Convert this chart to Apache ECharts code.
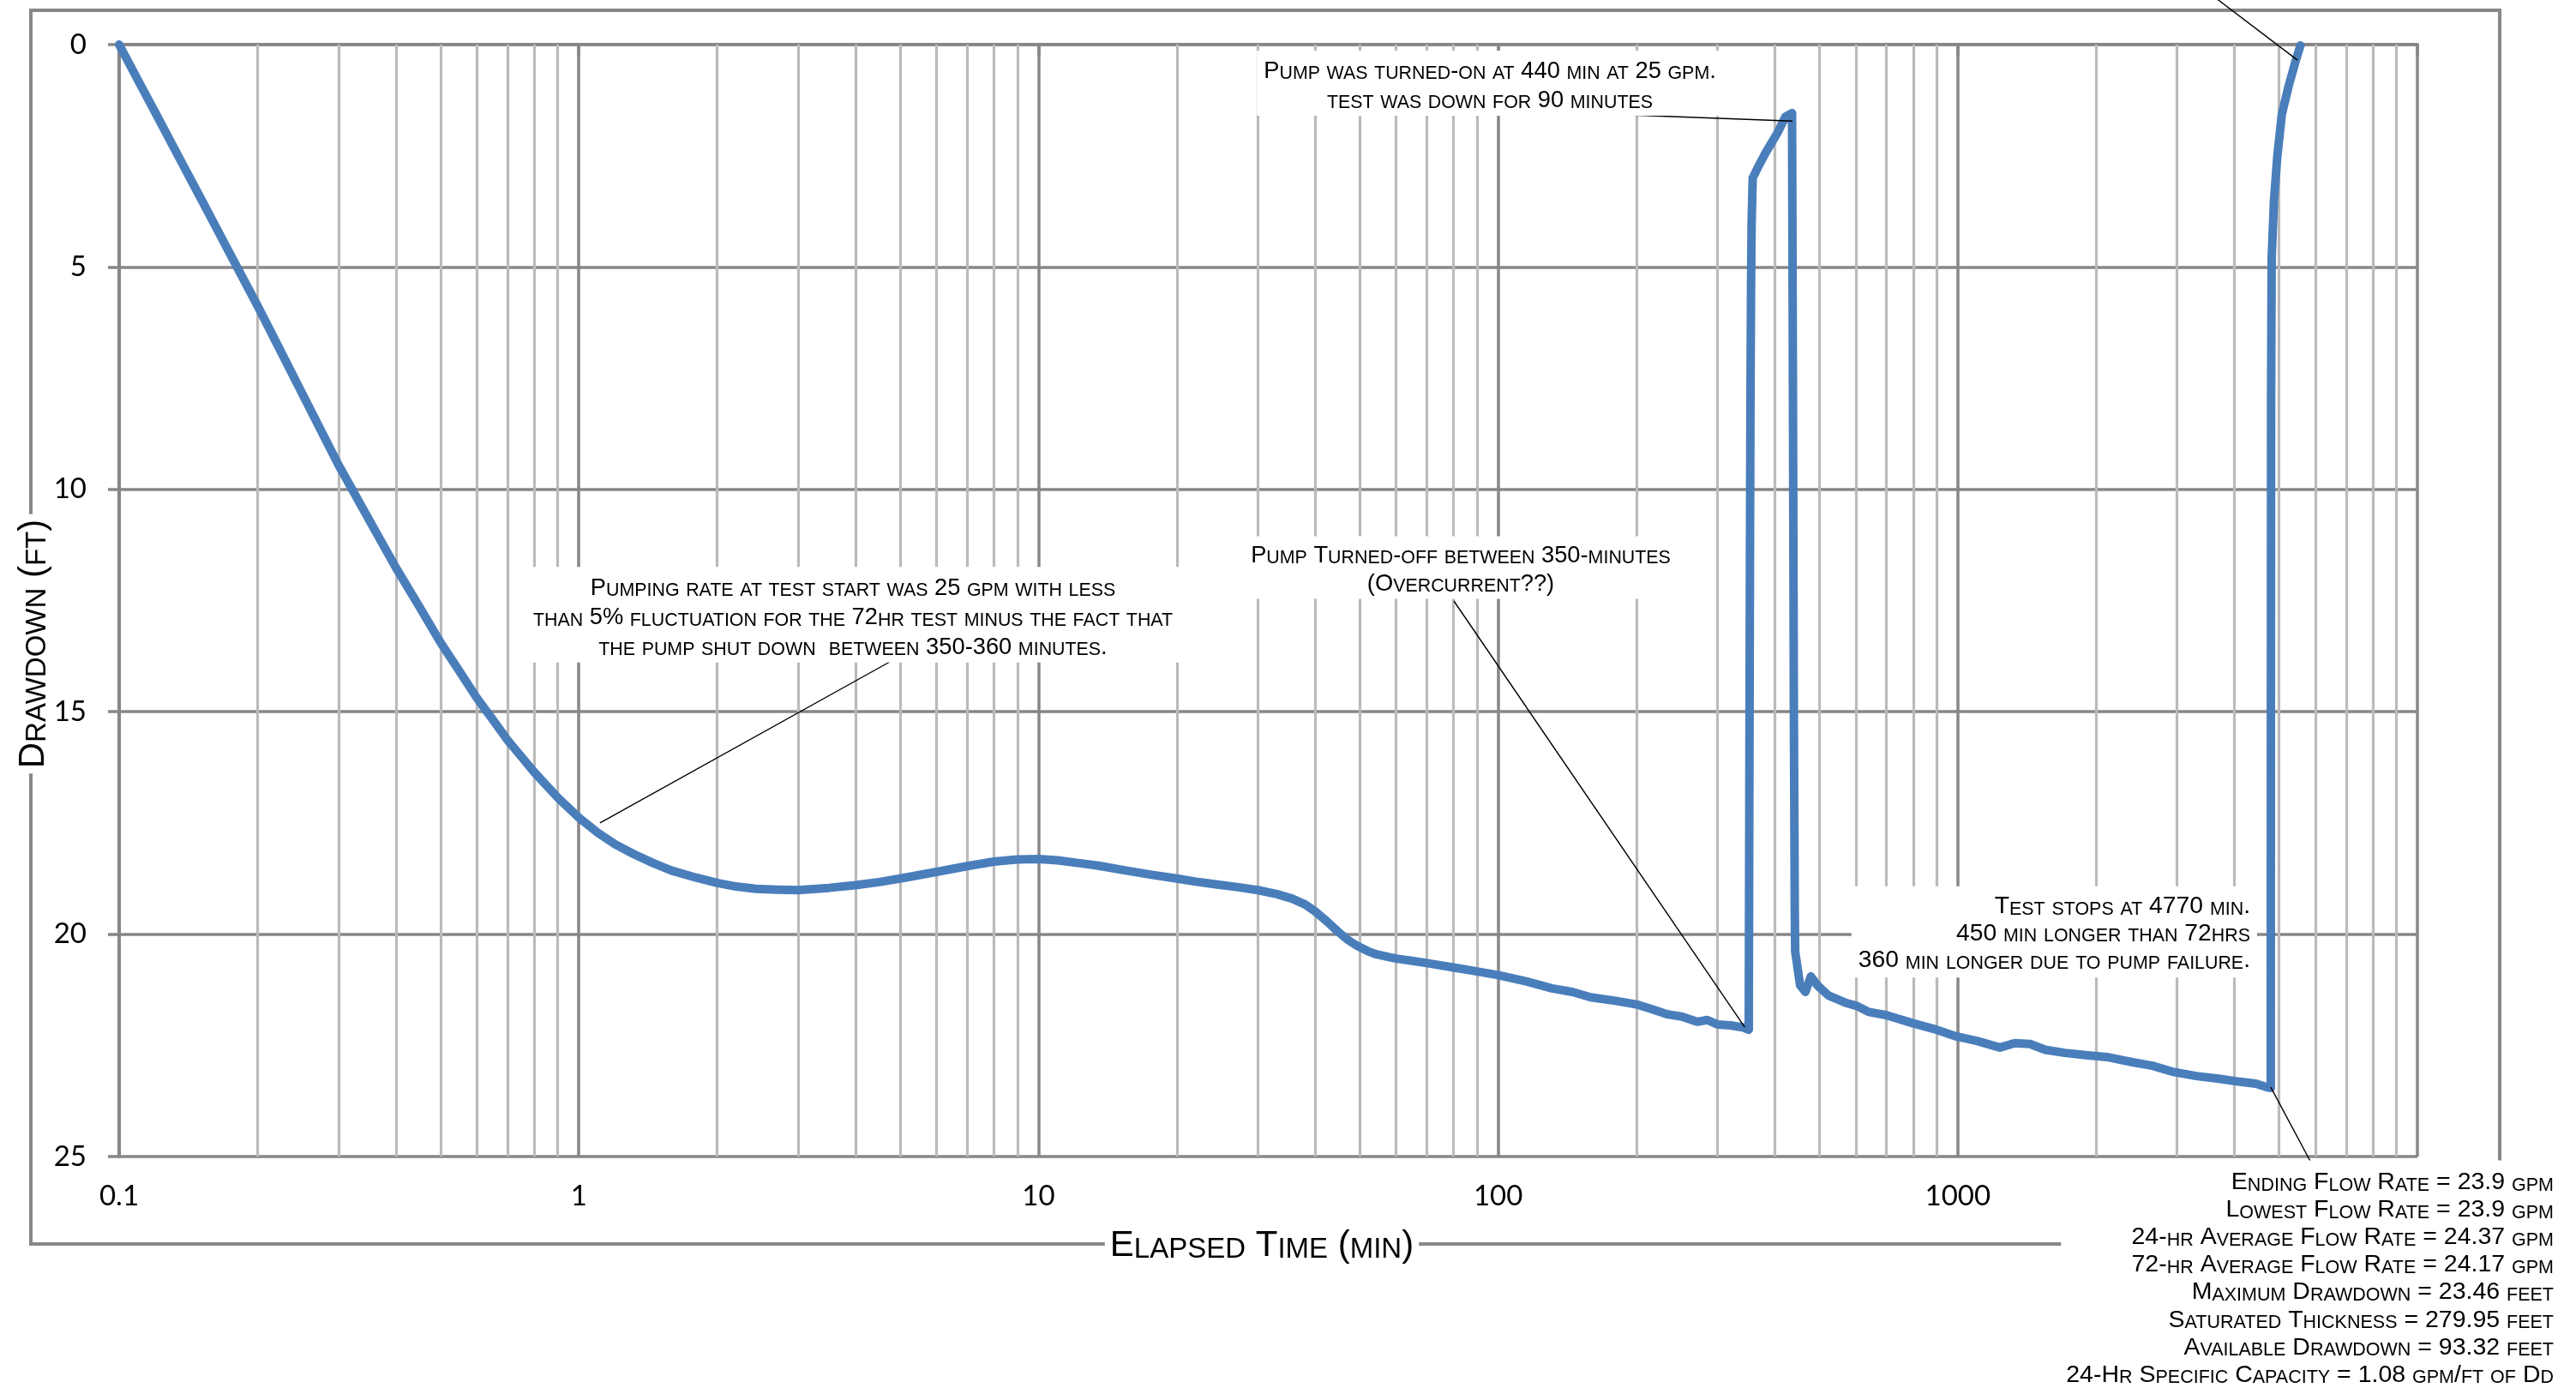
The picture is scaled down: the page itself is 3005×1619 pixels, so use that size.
<!DOCTYPE html>
<html><head><meta charset="utf-8">
<script src="https://cdn.jsdelivr.net/npm/echarts@6/dist/echarts.min.js"></script>
<style>html,body{margin:0;padding:0;background:#fff}#c{width:3005px;height:1619px}</style>
</head><body><div id="c"></div>
<script>
// ---------------- DATA ----------------
const timeMin = [
  0.1,0.11,0.12,0.135,0.15,0.165,0.183,0.2,0.22,0.25,0.3,0.35,0.4,0.45,0.5,0.55,0.6,0.65,0.7,0.75,0.8,0.9,1.0,
  1.1,1.2,1.317,1.45,1.59,1.8,2.0,2.2,2.43,2.7,3.0,3.5,4.0,4.5,5.0,6.0,7.0,8.0,9.0,10,
  11,12.2,13.5,15.3,17.5,20,22,24.3,27,30,33,35.6,38,40,42.5,44.8,47,49.3,52,54.2,
  57,60,65,70,80,90,100,115,131,145,159,180,200,215,233,250,271,285,300,320,342,351,
  352,353,354,355,356,358,370,382,405,422,436,
  438,440,442,443,454,466,479,495,523,573,605,640,698,797,900,993,1100,1235,1330,1436,
  1550,1712,1900,2131,2400,2652,2950,3303,3700,4112,4450,4697,4797,
  4800,4805,4815,4820,4875,4955,5070,5250,5440,5566
];
const drawdownFt = [
  0,0.81,1.54,2.54,3.43,4.24,5.12,5.87,6.71,7.84,9.45,10.69,11.76,12.64,13.44,14.09,14.69,15.18,15.64,16.01,16.36,16.93,17.38,
  17.72,17.98,18.2,18.4,18.57,18.73,18.85,18.93,18.98,19.0,19.01,18.96,18.9,18.83,18.75,18.6,18.47,18.37,18.32,18.31,
  18.34,18.4,18.46,18.56,18.66,18.75,18.82,18.88,18.94,19.01,19.1,19.2,19.33,19.49,19.72,19.94,20.12,20.26,20.38,20.45,
  20.5,20.55,20.6,20.65,20.75,20.84,20.92,21.06,21.22,21.3,21.42,21.5,21.58,21.68,21.8,21.85,21.97,21.93,22.03,22.05,22.1,22.15,
  17.0,12.0,8.0,5.5,4.05,3.0,2.7,2.43,1.99,1.62,1.54,
  8.0,15.0,19.5,20.4,21.15,21.3,20.95,21.15,21.38,21.55,21.62,21.75,21.82,22.0,22.15,22.3,22.4,22.55,22.45,22.47,
  22.6,22.67,22.72,22.77,22.88,22.96,23.1,23.19,23.25,23.32,23.36,23.44,23.46,
  15.0,8.0,5.5,4.78,3.5,2.53,1.57,0.92,0.35,0.02
];
const xTickLabels = ['0.1','1','10','100','1000'];
const yTickLabels = ['0','5','10','15','20','25'];
const minorGridTimes = [0.2,0.3,0.4,0.5,0.6,0.7,0.8,0.9,2,3,4,5,6,7,8,9,20,30,40,50,60,70,80,90,
  200,300,400,500,600,700,800,900,2000,3000,4000,5000,6000,7000,8000,9000];
const xTitle = 'Elapsed Time (min)';
const yTitle = 'Drawdown (ft)';
const noteStart = 'Pumping rate at test start was 25 gpm with less\nthan 5% fluctuation for the 72hr test minus the fact that\nthe pump shut down  between 350-360 minutes.';
const noteOff = 'Pump Turned-off between 350-minutes\n(Overcurrent??)';
const noteOn = 'Pump was turned-on at 440 min at 25 gpm.\ntest was down for 90 minutes';
const noteStop = 'Test stops at 4770 min.\n450 min longer than 72hrs\n360 min longer due to pump failure.';
const statsLines = [
  'Ending Flow Rate = 23.9 gpm',
  'Lowest Flow Rate = 23.9 gpm',
  '24-hr Average Flow Rate = 24.37 gpm',
  '72-hr Average Flow Rate = 24.17 gpm',
  'Maximum Drawdown = 23.46 feet',
  'Saturated Thickness = 279.95 feet',
  'Available Drawdown = 93.32 feet',
  '24-Hr Specific Capacity = 1.08 gpm/ft of Dd'
];
// anchors of the leader lines on the curve [time, drawdown]
const anchorStart = [1.112, 17.5];
const anchorOff = [344, 22.09];
const anchorOn = [437, 1.72];
const anchorEndTop = [5483, 0.35];
const anchorEndBottom = [4797, 23.44];

// ---------------- HELPERS ----------------
const FONT = "'Liberation Sans', Arial, sans-serif";
function smallCaps(str) {
  return str.split('\n').map(line => {
    let out = '', cur = null, buf = '';
    for (const ch of line) {
      const lower = ch !== ch.toUpperCase();
      const key = lower ? 's' : 'b';
      const c = lower ? ch.toUpperCase() : ch;
      if (key !== cur) { if (buf) out += '{' + cur + '|' + buf + '}'; buf = ''; cur = key; }
      buf += c;
    }
    if (buf) out += '{' + cur + '|' + buf + '}';
    return out;
  }).join('\n');
}
function richStyles(big, small, lh) {
  return {
    b: {fontSize: big, fontFamily: FONT, fill: '#000', lineHeight: lh, verticalAlign: 'bottom'},
    s: {fontSize: small, fontFamily: FONT, fill: '#000', lineHeight: lh, verticalAlign: 'bottom'}
  };
}
function noteText(txt, x, y, align, big, small, lh, pad) {
  return {
    type: 'text', z: 100, x: x, y: y, silent: true,
    style: {
      text: smallCaps(txt), rich: richStyles(big, small, lh),
      align: align, verticalAlign: 'middle', textAlign: align, textVerticalAlign: 'middle',
      backgroundColor: '#fff', padding: pad, fill: '#000', fontFamily: FONT, fontSize: big, lineHeight: lh
    }
  };
}

// ---------------- CHART ----------------
const chart = echarts.init(document.getElementById('c'), null, {renderer: 'canvas'});
const GRID = {left: 139, top: 52, right: 185, bottom: 270};
const major = '#878787';

const option = {
  animation: false,
  backgroundColor: '#fff',
  grid: GRID,
  xAxis: {
    type: 'log', logBase: 10, min: 0.1, max: 10000, z: 2,
    axisLine: {show: true, lineStyle: {color: major, width: 4}},
    axisTick: {show: true, length: 13, lineStyle: {color: major, width: 3.5}},
    axisLabel: {
      margin: 30, color: '#000', fontSize: 33, fontFamily: 'Lato, sans-serif',
      formatter: v => { const e = Math.round(Math.log10(v)); return (e + 1 >= 0 && e + 1 < xTickLabels.length) ? xTickLabels[e + 1] : ''; }
    },
    splitLine: {show: true, lineStyle: {color: major, width: 3.5}},
    minorTick: {show: false}
  },
  yAxis: {
    type: 'value', inverse: true, min: 0, max: 25, interval: 5, z: 2,
    axisLine: {show: true, lineStyle: {color: major, width: 4}},
    axisTick: {show: true, length: 13, lineStyle: {color: major, width: 3.5}},
    axisLabel: {
      margin: 38, color: '#000', fontSize: 33, fontFamily: 'Lato, sans-serif',
      formatter: v => yTickLabels[Math.round(v / 5)]
    },
    splitLine: {show: true, lineStyle: {color: major, width: 3.5}}
  },
  series: [
    {
      type: 'line', z: 1, data: [], silent: true,
      markLine: {
        silent: true, symbol: ['none', 'none'], label: {show: false}, animation: false,
        lineStyle: {color: '#bababa', width: 3.2, type: 'solid'},
        emphasis: {disabled: true},
        data: minorGridTimes.map(t => ({xAxis: t}))
      }
    },
    {
      type: 'line', z: 5, showSymbol: false, symbol: 'none', silent: true,
      lineStyle: {color: '#4a7ebb', width: 10, join: 'round', cap: 'round'},
      itemStyle: {color: '#4a7ebb'},
      data: timeMin.map((t, i) => [t, drawdownFt[i]])
    }
  ],
  graphic: []
};
chart.setOption(option);

const P = c => chart.convertToPixel({gridIndex: 0}, c);
function leader(a, bx, by) {
  const p = P(a);
  return {type: 'line', z: 90, silent: true, shape: {x1: p[0], y1: p[1], x2: bx, y2: by},
    style: {stroke: '#000', lineWidth: 1.4}};
}

const graphics = [
  {type: 'rect', z: 50, silent: true, shape: {x: 36, y: 12, width: 2880, height: 1439},
    style: {fill: 'none', stroke: major, lineWidth: 4}},
  leader(anchorStart, 1047, 767),
  leader(anchorOff, 1696, 701),
  leader(anchorOn, 1739, 128),
  leader(anchorEndTop, 2572, -12),
  leader(anchorEndBottom, 2698, 1360),
  noteText(noteStart, 995, 717, 'center', 27.3, 21.4, 34.5, [4, 8, 4, 8]),
  noteText(noteOff, 1704, 662, 'center', 27.3, 21.4, 32.5, [4, 8, 4, 8]),
  noteText(noteOn, 1738, 97, 'center', 27.3, 21.4, 34, [4, 8, 4, 8]),
  noteText(noteStop, 2633, 1087, 'right', 28.3, 21.4, 31.5, [6, 8, 6, 8]),
  noteText(statsLines.join('\n'), 2985, 1490, 'right', 28.5, 21.5, 32.1, [8, 6, 8, 6]),
  noteText(xTitle, 1472, 1450, 'center', 42, 33, 48, [0, 6, 0, 6]),
  Object.assign(noteText(yTitle, 36, 751, 'center', 42, 33, 48, [0, 6, 0, 6]), {rotation: Math.PI / 2})
];
chart.setOption({graphic: graphics});
</script>
</body></html>
